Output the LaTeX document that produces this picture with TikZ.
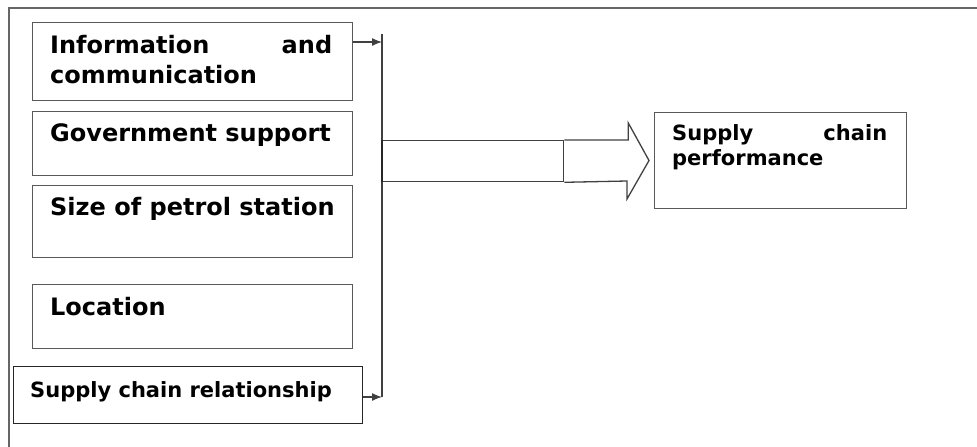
\documentclass[tikz,border=0pt]{standalone}
\usepackage{fontspec}
\setmainfont{DejaVu Sans}
\usetikzlibrary{arrows.meta}

\begin{document}
\begin{tikzpicture}[x=1pt,y=-1pt,
	factor/.style={draw=black!65, line width=1.4pt, inner sep=0pt, anchor=north west},
	txt/.style={inner sep=0pt, anchor=base west, align=left, font=\bfseries\fontsize{24}{30}\selectfont},
	feed/.style={-{Latex[length=10pt,width=8pt]}, draw=black!75, line width=1.3pt}]
	\useasboundingbox (0,0) rectangle (977,447);
	% frame
	\draw[black!60, line width=1.3pt] (977,8) -- (9,8) -- (9,447);
	% factors
	\node[factor, minimum width=320, minimum height=78,
		label={[txt, text width=282, xshift=18, yshift=-31]north west:{Information\hfill and\\communication}}] (info) at (32,22) {};
	\node[factor, minimum width=320, minimum height=64,
		label={[txt, xshift=18, yshift=-30]north west:Government support}] (gov) at (32,111) {};
	\node[factor, minimum width=320, minimum height=72,
		label={[txt, xshift=18, yshift=-30]north west:Size of petrol station}] (size) at (32,185) {};
	\node[factor, minimum width=320, minimum height=64,
		label={[txt, xshift=18, yshift=-31]north west:Location}] (loc) at (32,284) {};
	\node[factor, draw=black!85, minimum width=349, minimum height=57,
		label={[txt, font=\bfseries\fontsize{21}{30}\selectfont, xshift=17, yshift=-31]north west:Supply chain relationship}] (rel) at (13,366) {};
	% outcome
	\node[factor, minimum width=252, minimum height=96,
		label={[txt, font=\bfseries\fontsize{21}{25}\selectfont, text width=215, xshift=18, yshift=-28]north west:{Supply\hfill chain\\performance}}] (perf) at (654,112) {};
	% bus
	\coordinate (bustop) at (382,34);
	\coordinate (busin) at (382,42);
	\coordinate (busbot) at (382,397);
	\draw[black!75, line width=1.3pt] (bustop) -- (busbot);
	\draw[feed] (info.east |- busin) -- (busin);
	\draw[feed] (rel.east |- busbot) -- (busbot);
	% big arrow
	\node[factor, draw=black!75, line width=1.3pt, minimum width=181, minimum height=41] (shaft) at (382,140) {};
	\draw[black!85, line width=2.2pt] (shaft.north west) -- (shaft.south west);
	\draw[black!75, line width=1.3pt, line join=miter] (shaft.north east) -- ++(64,0) -- ++(0,-17) -- (649,160.5) -- (627,199) -- (627,181) -- (shaft.south east);
\end{tikzpicture}
\end{document}
